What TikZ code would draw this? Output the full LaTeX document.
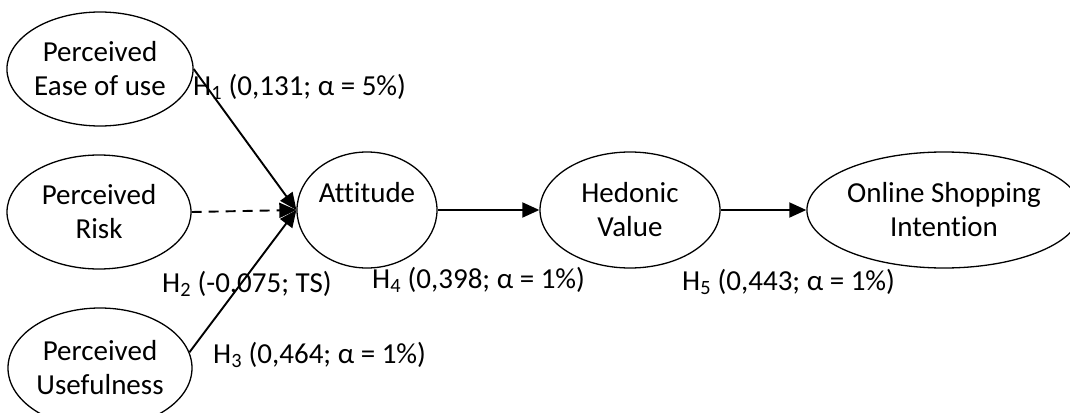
\documentclass[tikz,border=0pt]{standalone}
\usepackage{fontspec}
\setmainfont{Carlito}[Ligatures=NoCommon]
\usetikzlibrary{shapes.geometric,arrows.meta}
\begin{document}
\begin{tikzpicture}[x=1pt,y=-1pt,
  construct/.style={ellipse,draw,line width=1.3pt,inner sep=0pt,align=center,
    font=\fontsize{29}{34}\selectfont},
  lbl/.style={anchor=base west,inner sep=0pt,font=\fontsize{29}{35}\selectfont},
  path/.style={line width=1.9pt,-{Triangle[length=17pt,width=15pt]}}]
\useasboundingbox (0,0) rectangle (1070,412);
\node[construct,minimum width=184pt,minimum height=114pt] (ease) at (100,69) {Perceived\\Ease of use};
\node[construct,minimum width=184pt,minimum height=114pt] (risk) at (99,212) {Perceived\\Risk};
\node[construct,minimum width=184pt,minimum height=120pt] (use) at (100,368) {Perceived\\Usefulness};
\node[construct,minimum width=140pt,minimum height=116pt] (att) at (367,210) {Attitude\\\phantom{Value}};
\node[construct,minimum width=180pt,minimum height=116pt] (hed) at (630,210) {Hedonic\\Value};
\node[construct,minimum width=248pt,minimum height=116pt] (onl) at (944,210) {Online Shopping\\Intention};
\draw[path] (ease.east) -- (att.west);
\draw[path,dash pattern=on 10pt off 7pt] (risk.east) -- (att.west);
\draw[path] (use.10) -- (att.west);
\draw[path] (att.east) -- (hed.west);
\draw[path] (hed.east) -- (onl.west);
\node[lbl] (l1) at (193,95) {H\textsubscript{1} (0,131; α = 5\%)};
\node[lbl] (l2) at (162,292) {H\textsubscript{2} (-0,075; TS)};
\node[lbl] (l3) at (213,363) {H\textsubscript{3} (0,464; α = 1\%)};
\node[lbl] (l4) at (372,288) {H\textsubscript{4} (0,398; α = 1\%)};
\node[lbl] (l5) at (682,290) {H\textsubscript{5} (0,443; α = 1\%)};
\end{tikzpicture}
\end{document}
